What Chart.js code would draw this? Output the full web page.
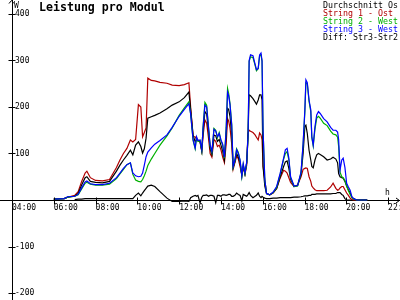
<!DOCTYPE html>
<html><head><meta charset="utf-8">
<script src="https://cdn.jsdelivr.net/npm/chart.js@4.4.1/dist/chart.umd.min.js"></script>
<style>html,body{margin:0;padding:0;background:#fff}canvas{display:block}</style>
</head><body>
<canvas id="c" width="400" height="300"></canvas>
<script>
const titleText = "Leistung pro Modul";
const yUnit = "W";
const xUnit = "h";
const seriesLabels = ["Durchschnitt Os", "String 1 - Ost", "String 2 - West", "String 3 - West", "Diff: Str3-Str2"];
const seriesColors = ["#000000", "#b00000", "#00b000", "#0000ff", "#000000"];

const times = ["06:00","06:30","06:40","07:00","07:10","07:20","07:30","07:35","07:45","08:00",
"08:20","08:40","09:00","09:10","09:20","09:30","09:40","09:47","09:55","10:03",
"10:10","10:15","10:20","10:25","10:30","10:40","10:50","11:05","11:25","11:40",
"12:00","12:15","12:28","12:33","12:40","12:46","12:50","12:54","13:00","13:05",
"13:09","13:14","13:19","13:24","13:29","13:34","13:40","13:45","13:50","13:55",
"14:00","14:05","14:10","14:15","14:19","14:22","14:26","14:31","14:35","14:40",
"14:45","14:50","14:55","15:00","15:04","15:09","15:14","15:18","15:21","15:25",
"15:32","15:38","15:42","15:47","15:51","15:55","15:58","16:01","16:06","16:11",
"16:20","16:30","16:40","16:50","17:00","17:05","17:10","17:15","17:20","17:30",
"17:40","17:50","17:56","18:01","18:04","18:08","18:13","18:18","18:21","18:25",
"18:30","18:35","18:40","18:45","18:55","19:05","19:15","19:22","19:30","19:35",
"19:38","19:42","19:47","19:51","19:56","20:01","20:06","20:11","20:16","20:21",
"20:30","21:00"];

const avgValues = [2,3,6,8,14,32,48,50,40,38,
37,40,62,75,86,96,107,97,118,125,
115,101,110,133,176,179,182,187,196,204,
211,220,232,194,140,125,130,128,125,105,
150,190,185,150,110,98,140,138,126,130,
118,105,86,138,197,195,180,140,70,82,
100,92,80,52,74,56,80,147,226,224,
218,211,206,215,226,226,215,72,30,14,
11,16,25,50,72,82,84,68,45,29,
31,55,100,158,161,143,107,86,72,69,
86,97,100,98,93,86,88,92,88,80,
57,50,48,47,40,30,22,15,6,3,
0,0];

const str1Values = [2,3,6,10,18,40,58,62,48,42,
41,44,70,86,100,111,129,125,130,205,
200,136,145,155,262,257,256,253,251,247,
246,248,252,200,136,136,130,129,125,105,
140,172,165,135,100,92,130,126,115,118,
108,92,80,120,175,170,155,120,66,80,
95,88,72,55,70,55,75,144,150,148,
145,140,135,129,144,140,130,72,43,14,
11,15,25,47,64,62,58,48,38,29,
32,50,66,68,69,68,50,40,30,26,
22,20,20,20,20,21,28,36,25,21,
22,26,29,29,22,15,10,4,1,0,
0,0];

const str2Values = [2,3,6,8,11,24,36,38,34,32,
32,34,46,56,66,76,80,55,43,40,
39,44,52,62,74,88,100,118,138,155,
182,198,211,185,128,110,134,126,128,106,
160,210,204,160,116,102,154,150,134,145,
128,118,90,155,240,230,208,162,70,84,
110,102,84,50,76,56,80,136,298,308,
306,290,278,282,310,312,298,150,43,14,
11,16,27,55,88,100,104,86,48,29,
30,58,120,190,252,250,212,190,134,116,
152,176,180,176,165,160,148,142,140,135,
115,60,50,48,42,30,20,12,5,2,
0,0];

const str3Values = [2,3,7,8,12,26,39,41,35,33,
33,36,48,58,68,76,80,58,52,50,
51,58,75,93,103,112,120,128,140,156,
180,195,207,185,130,112,136,128,129,108,
158,204,200,158,118,104,152,148,136,143,
129,120,92,150,232,225,205,160,72,86,
108,100,86,52,78,58,82,140,300,312,
310,292,280,283,312,316,300,150,43,14,
11,17,29,57,90,108,111,90,50,30,
31,60,122,194,258,252,215,194,136,118,
158,183,190,186,175,168,156,150,150,146,
130,64,86,90,70,36,28,21,7,3,
0,0];

const diffValues = [null,null,null,1,2,2,3,3,3,3,
3,3,3,3,3,3,3,3,10,15,
9,15,20,25,30,32,29,18,4,-3,
-3,-2,-3,5,8,10,8,10,-6,6,
10,10,11,8,10,10,8,-6,10,10,
8,11,11,10,11,12,12,8,8,10,
15,12,10,-2,12,10,8,12,16,10,
5,8,10,15,8,5,8,6,4,3,
3,4,4,5,5,5,5,5,5,6,
6,7,8,9,9,9,10,10,12,12,
12,13,13,13,13,13,13,14,14,16,
16,16,12,10,3,0,0,0,0,0,
0,0];

const xTickStep = 2;
const yTickStep = 100;

function toHours(t){ const p = t.split(":"); return +p[0] + (+p[1])/60; }
function pts(vals){ return times.map((t,i)=>({x: toHours(t), y: vals[i] === undefined ? null : vals[i]})); }
function pad2(n){ return (n<10?"0":"") + n; }

const allSeries = [avgValues, str1Values, str2Values, str3Values, diffValues];
// drawing order: blue on top, then green, black, red, diff
const drawOrder = [3, 2, 0, 1, 4];
const datasets = drawOrder.map((k, j) => ({
  label: seriesLabels[k],
  data: pts(allSeries[k]),
  borderColor: seriesColors[k],
  borderWidth: 1.2,
  pointRadius: 0,
  tension: 0,
  fill: false,
  spanGaps: false,
  order: j
}));

function zeroFit(s, dim){ s[dim] = (dim === 'width') ? 12 : 0; s.paddingLeft = 0; s.paddingRight = 0; s.paddingTop = 0; s.paddingBottom = 0; }

const decor = {
  id: 'decor',
  afterDraw(chart){
    const ctx = chart.ctx, xs = chart.scales.x, ys = chart.scales.y, ca = chart.chartArea;
    const y0 = Math.round(ys.getPixelForValue(0)) + 0.5;
    const ax = Math.round(ca.left) - 0.5;
    ctx.save();
    ctx.strokeStyle = '#000'; ctx.fillStyle = '#000'; ctx.lineWidth = 1;
    ctx.beginPath();
    ctx.moveTo(0, y0); ctx.lineTo(ca.left, y0);
    xs.ticks.forEach(t => { const px = Math.round(xs.getPixelForValue(t.value)) + 0.5; ctx.moveTo(px, y0 - 3); ctx.lineTo(px, y0 + 4); });
    ys.ticks.forEach(t => { if (t.value === 0) return; const py = Math.round(ys.getPixelForValue(t.value)) + 0.5; ctx.moveTo(ax - 3, py); ctx.lineTo(ax + 4, py); });
    // arrow at top of y axis
    ctx.moveTo(ax - 2.5, 3.5); ctx.lineTo(ax, 0.5); ctx.lineTo(ax + 2.5, 3.5);
    // arrow at right of x axis
    ctx.moveTo(ca.right - 4, y0 - 2.5); ctx.lineTo(ca.right - 0.5, y0); ctx.lineTo(ca.right - 4, y0 + 2.5);
    ctx.stroke();
    ctx.font = "8px 'DejaVu Sans Mono'";
    ctx.textBaseline = 'alphabetic'; ctx.textAlign = 'left';
    ctx.fillText(yUnit, 14, 8);
    ctx.fillText(xUnit, 385, 195);
    ctx.font = "bold 11.6px 'DejaVu Sans Mono'";
    ctx.fillText(titleText, 39, 11);
    ctx.font = "8.3px 'DejaVu Sans Mono'";
    seriesLabels.forEach((s, i) => { ctx.fillStyle = seriesColors[i]; ctx.fillText(s, 323, 7.5 + 8 * i); });
    ctx.restore();
  }
};

new Chart(document.getElementById('c'), {
  type: 'line',
  data: { datasets },
  plugins: [decor],
  options: {
    responsive: false,
    animation: false,
    devicePixelRatio: 1,
    layout: { padding: 0 },
    plugins: { legend: { display: false }, title: { display: false }, tooltip: { enabled: false } },
    scales: {
      x: {
        type: 'linear',
        position: { y: 0 },
        min: 4, max: 22.57,
        afterFit: s => zeroFit(s, 'height'),
        grid: { display: true, drawOnChartArea: false, drawTicks: false },
        border: { display: true, color: '#000', width: 1 },
        ticks: {
          stepSize: xTickStep, includeBounds: false, autoSkip: false, maxRotation: 0, minRotation: 0,
          align: 'start', padding: 3, color: '#000',
          font: { family: "'DejaVu Sans Mono'", size: 8 },
          callback: v => pad2(v) + ":00"
        }
      },
      y: {
        type: 'linear',
        position: 'left',
        min: -215, max: 430,
        afterFit: s => zeroFit(s, 'width'),
        grid: { display: true, drawOnChartArea: false, drawTicks: false },
        border: { display: true, color: '#000', width: 1 },
        ticks: {
          stepSize: yTickStep, includeBounds: false, mirror: true, padding: 3, color: '#000',
          font: { family: "'DejaVu Sans Mono'", size: 8 },
          callback: v => v === 0 ? '' : String(v)
        }
      }
    }
  }
});
</script>
</body></html>
